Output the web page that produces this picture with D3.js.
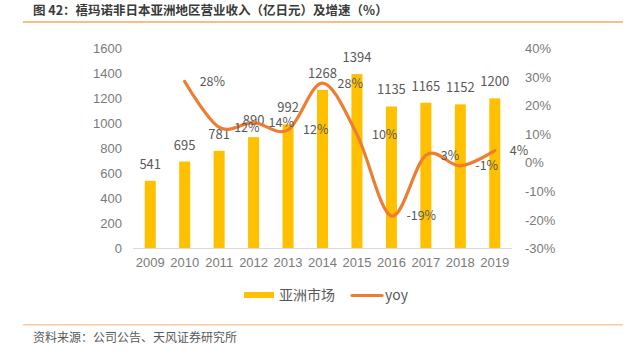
<!DOCTYPE html>
<html><head><meta charset="utf-8">
<script src="https://cdn.jsdelivr.net/npm/d3@7"></script>
<style>
html,body{margin:0;padding:0;background:#fff;}
svg{display:block;font-family:"Noto Sans CJK SC","Noto Sans",sans-serif;}
</style></head>
<body><svg id="c" width="631" height="354"></svg>
<script>
const years = ["2009","2010","2011","2012","2013","2014","2015","2016","2017","2018","2019"];
const revenue = [541,695,781,890,992,1268,1394,1135,1165,1152,1200];
const yoyYears = ["2010","2011","2012","2013","2014","2015","2016","2017","2018","2019"];
const yoy = [28.4,12.4,14.0,11.5,27.8,9.9,-18.6,2.6,-1.1,4.2];
const leftTicks = [0,200,400,600,800,1000,1200,1400,1600];
const rightTicks = [-30,-20,-10,0,10,20,30,40];
const title = "图 42：禧玛诺非日本亚洲地区营业收入（亿日元）及增速（%）";
const source = "资料来源：公司公告、天风证券研究所";
const legendNames = ["亚洲市场","yoy"];

const svg = d3.select("#c");
const x = d3.scaleBand().domain(years).range([133,512]).paddingInner(0.68).paddingOuter(0.34);
const yL = d3.scaleLinear().domain([0,1600]).range([248.5,48.3]);
const yR = d3.scaleLinear().domain([-30,40]).range([248.5,48.3]);
const cx = d => x(d) + x.bandwidth()/2;

// title & rules
svg.append("text").attr("x",33).attr("y",15).attr("font-size",12.5).attr("font-weight","bold")
  .attr("fill","#3a3a3a").text(title);
svg.append("line").attr("x1",23).attr("x2",623).attr("y1",22).attr("y2",22)
  .attr("stroke","#F5A860").attr("stroke-width",1.5);
svg.append("line").attr("x1",23).attr("x2",623).attr("y1",324.8).attr("y2",324.8)
  .attr("stroke","#F8C8A0").attr("stroke-width",1.5);
svg.append("text").attr("x",33).attr("y",342).attr("font-size",12).attr("fill","#595959").text(source);

// axes
const gL = svg.append("g").attr("transform","translate(133,0)")
  .call(d3.axisLeft(yL).tickValues(leftTicks).tickSize(0).tickPadding(11).tickFormat(d3.format("d")));
gL.select(".domain").remove();
gL.selectAll("text").attr("font-size",13).attr("fill","#7a7a7a").attr("font-family","inherit");

const gR = svg.append("g").attr("transform","translate(512,0)")
  .call(d3.axisRight(yR).tickValues(rightTicks).tickSize(0).tickPadding(13).tickFormat(d=>d+"%"));
gR.select(".domain").remove();
gR.selectAll("text").attr("font-size",13).attr("fill","#7a7a7a").attr("font-family","inherit");

// bars
svg.append("g").selectAll("rect").data(years).join("rect")
  .attr("x",d=>x(d)).attr("width",x.bandwidth())
  .attr("y",(d,i)=>yL(revenue[i])).attr("height",(d,i)=>yL(0)-yL(revenue[i]))
  .attr("fill","#FFC000");

// baseline
svg.append("line").attr("x1",133).attr("x2",512).attr("y1",248.5).attr("y2",248.5)
  .attr("stroke","#D9D9D9").attr("stroke-width",1);

const gX = svg.append("g").attr("transform","translate(0,248.5)")
  .call(d3.axisBottom(x).tickSize(0).tickPadding(9));
gX.select(".domain").remove();
gX.selectAll("text").attr("font-size",13).attr("fill","#7a7a7a").attr("font-family","inherit");

// bar labels
svg.append("g").selectAll("text").data(years).join("text")
  .attr("x",d=>cx(d)).attr("y",(d,i)=>yL(revenue[i])-12)
  .attr("text-anchor","middle").attr("font-size",13).attr("fill","#595959")
  .text((d,i)=>revenue[i]);

// yoy line
const line = d3.line().x((d,i)=>cx(yoyYears[i])).y(d=>yR(d)).curve(d3.curveCardinal.tension(0));
svg.append("path").datum(yoy).attr("d",line).attr("fill","none")
  .attr("stroke","#ED7D31").attr("stroke-width",3.2).attr("stroke-linecap","round");

svg.append("g").selectAll("text").data(yoy).join("text")
  .attr("x",(d,i)=>cx(yoyYears[i])+15).attr("y",d=>yR(d)+4.5)
  .attr("font-size",12.5).attr("fill","#595959")
  .text(d=>Math.round(d)+"%");

// legend
svg.append("rect").attr("x",244).attr("y",292).attr("width",30).attr("height",6).attr("fill","#FFC000");
svg.append("text").attr("x",279).attr("y",300).attr("font-size",14).attr("fill","#595959").text(legendNames[0]);
svg.append("line").attr("x1",352).attr("x2",382).attr("y1",295.5).attr("y2",295.5)
  .attr("stroke","#ED7D31").attr("stroke-width",3.2).attr("stroke-linecap","round");
svg.append("text").attr("x",385).attr("y",300).attr("font-size",14).attr("fill","#595959").text(legendNames[1]);
</script></body></html>
